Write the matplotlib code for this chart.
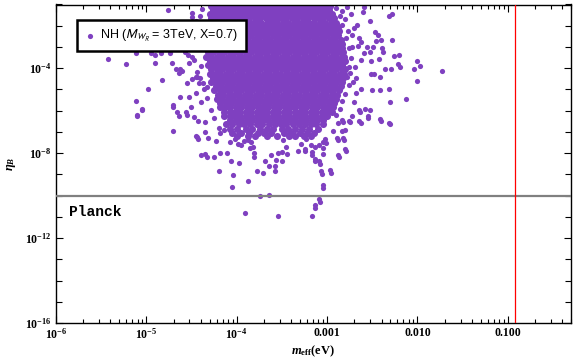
import numpy as np
import matplotlib
matplotlib.use("Agg")
import matplotlib.pyplot as plt
from matplotlib.ticker import LogLocator, FixedLocator, FixedFormatter, NullFormatter
from matplotlib.font_manager import FontProperties

plt.rcParams['mathtext.fontset'] = 'custom'
plt.rcParams['mathtext.rm'] = 'Liberation Serif:bold'
plt.rcParams['mathtext.it'] = 'Liberation Serif:italic:bold'
plt.rcParams['mathtext.bf'] = 'Liberation Serif:bold'

# dense core of the scatter: log10(eta_B) row -> log10(m_eff / eV) values
core_rows = {
    -1.05: [-4.28, -4.22, -4.16, -4.11, -4.05, -3.99, -3.93, -3.88, -3.82, -3.76, -3.70, -3.64, -3.59, -3.53, -3.47, -3.41, -3.35, -3.30, -3.24, -3.18, -3.12, -3.06, -3.01, -2.97],
    -1.25: [-4.26, -4.20, -4.14, -4.08, -4.02, -3.96, -3.91, -3.85, -3.79, -3.73, -3.67, -3.62, -3.56, -3.50, -3.44, -3.38, -3.33, -3.27, -3.21, -3.15, -3.09, -3.04, -2.98],
    -1.45: [-4.30, -4.24, -4.18, -4.12, -4.06, -4.00, -3.95, -3.89, -3.83, -3.77, -3.71, -3.65, -3.60, -3.54, -3.48, -3.42, -3.36, -3.30, -3.25, -3.19, -3.13, -3.07, -3.01, -2.95],
    -1.65: [-4.28, -4.22, -4.16, -4.10, -4.04, -3.98, -3.92, -3.86, -3.80, -3.74, -3.68, -3.62, -3.57, -3.51, -3.45, -3.39, -3.33, -3.27, -3.21, -3.15, -3.10, -3.04, -2.98, -2.92],
    -1.85: [-4.32, -4.26, -4.20, -4.14, -4.08, -4.02, -3.96, -3.90, -3.84, -3.79, -3.73, -3.67, -3.61, -3.55, -3.49, -3.43, -3.37, -3.31, -3.26, -3.20, -3.14, -3.08, -3.02, -2.96, -2.90],
    -2.05: [-4.30, -4.24, -4.18, -4.12, -4.06, -4.00, -3.94, -3.88, -3.82, -3.76, -3.70, -3.64, -3.58, -3.53, -3.47, -3.41, -3.35, -3.29, -3.23, -3.17, -3.11, -3.05, -2.99, -2.93, -2.88],
    -2.25: [-4.34, -4.28, -4.22, -4.16, -4.10, -4.04, -3.98, -3.92, -3.86, -3.80, -3.74, -3.68, -3.62, -3.56, -3.50, -3.45, -3.39, -3.33, -3.27, -3.21, -3.15, -3.09, -3.03, -2.97, -2.91, -2.87],
    -2.45: [-4.32, -4.26, -4.20, -4.14, -4.08, -4.02, -3.96, -3.90, -3.84, -3.78, -3.72, -3.66, -3.60, -3.54, -3.48, -3.42, -3.36, -3.30, -3.24, -3.18, -3.12, -3.06, -3.00, -2.94, -2.88],
    -2.65: [-4.35, -4.29, -4.23, -4.17, -4.11, -4.05, -3.99, -3.93, -3.87, -3.81, -3.75, -3.69, -3.63, -3.57, -3.51, -3.45, -3.39, -3.33, -3.27, -3.21, -3.15, -3.09, -3.03, -2.97, -2.91, -2.85],
    -2.85: [-4.33, -4.27, -4.21, -4.15, -4.09, -4.03, -3.97, -3.91, -3.85, -3.79, -3.73, -3.67, -3.61, -3.55, -3.49, -3.43, -3.37, -3.31, -3.25, -3.19, -3.13, -3.07, -3.01, -2.95, -2.89, -2.84],
    -3.05: [-4.36, -4.30, -4.24, -4.18, -4.12, -4.06, -4.00, -3.94, -3.88, -3.82, -3.76, -3.70, -3.64, -3.58, -3.52, -3.46, -3.40, -3.34, -3.28, -3.22, -3.16, -3.10, -3.04, -2.98, -2.92, -2.86, -2.83],
    -3.25: [-4.32, -4.26, -4.20, -4.14, -4.08, -4.02, -3.96, -3.90, -3.84, -3.78, -3.72, -3.66, -3.60, -3.54, -3.48, -3.42, -3.36, -3.30, -3.24, -3.18, -3.12, -3.06, -3.00, -2.94, -2.88, -2.82],
    -3.45: [-4.34, -4.28, -4.22, -4.16, -4.10, -4.04, -3.98, -3.92, -3.86, -3.80, -3.74, -3.68, -3.62, -3.56, -3.50, -3.44, -3.38, -3.32, -3.26, -3.20, -3.14, -3.08, -3.02, -2.96, -2.90, -2.84, -2.81],
    -3.65: [-4.30, -4.24, -4.18, -4.12, -4.06, -4.00, -3.94, -3.88, -3.82, -3.76, -3.70, -3.64, -3.58, -3.52, -3.46, -3.40, -3.34, -3.28, -3.22, -3.16, -3.10, -3.04, -2.98, -2.92, -2.86, -2.80],
    -3.85: [-4.32, -4.26, -4.20, -4.14, -4.08, -4.02, -3.96, -3.90, -3.84, -3.78, -3.72, -3.66, -3.60, -3.54, -3.48, -3.42, -3.36, -3.30, -3.24, -3.18, -3.12, -3.06, -3.00, -2.94, -2.88, -2.83],
    -4.05: [-4.28, -4.22, -4.16, -4.10, -4.04, -3.98, -3.92, -3.86, -3.80, -3.74, -3.68, -3.62, -3.56, -3.50, -3.44, -3.38, -3.32, -3.26, -3.20, -3.14, -3.08, -3.02, -2.96, -2.90, -2.84, -2.80],
    -4.25: [-4.30, -4.24, -4.18, -4.12, -4.06, -4.00, -3.94, -3.88, -3.82, -3.76, -3.70, -3.64, -3.58, -3.52, -3.46, -3.40, -3.34, -3.28, -3.22, -3.16, -3.10, -3.04, -2.98, -2.92, -2.86, -2.81],
    -4.45: [-4.26, -4.20, -4.14, -4.08, -4.02, -3.96, -3.90, -3.84, -3.78, -3.72, -3.66, -3.60, -3.54, -3.48, -3.42, -3.36, -3.30, -3.24, -3.18, -3.12, -3.06, -3.00, -2.94, -2.88, -2.82],
    -4.65: [-4.28, -4.22, -4.16, -4.10, -4.04, -3.98, -3.92, -3.86, -3.80, -3.74, -3.68, -3.62, -3.56, -3.50, -3.44, -3.38, -3.32, -3.26, -3.20, -3.14, -3.08, -3.02, -2.96, -2.90, -2.84],
    -4.85: [-4.23, -4.17, -4.11, -4.05, -3.99, -3.93, -3.87, -3.81, -3.75, -3.69, -3.63, -3.57, -3.51, -3.45, -3.39, -3.33, -3.27, -3.21, -3.15, -3.09, -3.03, -2.97, -2.91, -2.85],
    -5.05: [-4.25, -4.19, -4.13, -4.07, -4.01, -3.95, -3.89, -3.83, -3.77, -3.71, -3.65, -3.59, -3.53, -3.47, -3.41, -3.35, -3.29, -3.23, -3.17, -3.11, -3.05, -2.99, -2.93, -2.87],
    -5.25: [-4.21, -4.15, -4.09, -4.03, -3.97, -3.91, -3.85, -3.79, -3.73, -3.67, -3.61, -3.55, -3.49, -3.43, -3.37, -3.31, -3.25, -3.19, -3.13, -3.07, -3.01, -2.95, -2.89],
    -5.45: [-4.22, -4.16, -4.10, -4.04, -3.98, -3.92, -3.86, -3.80, -3.74, -3.68, -3.62, -3.56, -3.50, -3.44, -3.38, -3.32, -3.26, -3.20, -3.14, -3.08, -3.02, -2.96, -2.90],
    -5.65: [-4.18, -4.12, -4.06, -4.00, -3.94, -3.88, -3.82, -3.76, -3.70, -3.64, -3.58, -3.52, -3.46, -3.40, -3.34, -3.28, -3.22, -3.16, -3.10, -3.04, -2.98, -2.92],
    -5.85: [-4.19, -4.13, -4.07, -4.01, -3.95, -3.89, -3.83, -3.77, -3.71, -3.65, -3.59, -3.53, -3.47, -3.41, -3.35, -3.29, -3.23, -3.17, -3.11, -3.05, -2.99, -2.94],
    -6.05: [-4.14, -4.08, -4.02, -3.96, -3.90, -3.84, -3.78, -3.72, -3.66, -3.60, -3.54, -3.48, -3.42, -3.36, -3.30, -3.24, -3.18, -3.12, -3.06, -3.00, -2.95],
    -6.25: [-4.14, -4.08, -4.02, -3.96, -3.90, -3.84, -3.78, -3.72, -3.66, -3.60, -3.54, -3.48, -3.42, -3.36, -3.30, -3.24, -3.18, -3.12, -3.06, -3.00],
    -6.45: [-4.07, -4.01, -3.95, -3.89, -3.83, -3.77, -3.71, -3.65, -3.59, -3.53, -3.47, -3.41, -3.35, -3.29, -3.23, -3.17, -3.11, -3.05],
    -6.65: [-4.12, -4.05, -3.98, -3.92, -3.85, -3.78, -3.72, -3.64, -3.58, -3.51, -3.45, -3.38, -3.31, -3.25, -3.18, -3.12, -3.05],
    -6.85: [-4.08, -4.00, -3.90, -3.83, -3.74, -3.66, -3.60, -3.50, -3.43, -3.35, -3.28, -3.20, -3.10],
    -7.05: [-4.05, -3.95, -3.86, -3.77, -3.70, -3.62, -3.48, -3.40, -3.30, -3.22, -3.14],
    -7.20: [-4.00, -3.88, -3.80, -3.66, -3.55, -3.42, -3.35, -3.26, -3.18],
}

# scattered points around the core: log10(m_eff / eV), log10(eta_B)
sparse_meff = [
    -2.59, -2.60, -2.32, -2.28, -2.52, -2.47, -2.44, -2.28, -2.40, -2.46, -2.49, -2.39, -2.38, -2.26, -2.20,
    -2.43, -2.51, -2.00, -1.97, -2.04, -1.73, -2.22, -2.19, -2.36, -2.29, -2.48, -2.51, -2.41, -2.01, -2.32,
    -2.41, -2.50, -2.30, -2.13, -2.58, -2.52, -2.64, -2.55, -2.40, -2.30, -2.63, -2.75, -2.82, -2.84, -2.93,
    -2.88, -2.81, -2.79, -2.87, -3.01, -3.05, -3.04, -3.13, -3.17, -3.24, -3.13, -3.08, -3.06, -2.96, -3.04,
    -3.08, -3.13, -3.17,
    -4.71, -4.44, -4.43, -4.35, -4.23, -4.39, -4.35, -4.33, -4.25, -4.18, -4.11, -4.06, -3.97, -4.20, -4.04,
    -4.05, -3.87, -3.78, -3.71, -3.69, -3.64, -3.58, -3.58, -3.62, -3.57, -3.50, -3.81, -3.81, -3.74, -3.64,
    -3.91, -3.54, -3.13, -3.09, -3.04, -3.07, -2.97, -3.13, -3.09, -2.88, -2.80, -2.82, -2.89, -3.17, -3.32,
    -3.24, -3.44, -3.50, -3.54, -3.29, -3.23, -3.45, -3.49, -3.84, -3.82, -3.85, -3.99, -3.95, -4.08, -4.32,
    -2.65, -2.55, -2.42, -2.31, -2.88, -2.84,
    -5.10, -5.05, -4.66, -4.64, -4.55, -4.47, -4.43, -4.45, -4.20, -4.19, -4.14, -4.02, -3.92, -3.88,
    -3.09, -3.18, -3.04, -3.02, -2.80, -2.76,
    -4.76, -4.50, -4.49, -4.41, -5.12, -4.95, -4.74, -4.57, -4.58, -5.43, -5.23, -4.90, -4.72, -4.63, -4.61,
    -4.83, -4.98, -5.11, -5.05, -5.10, -4.71, -4.70, -4.91, -4.84, -4.63, -4.53, -4.51, -4.45, -4.56, -4.67,
    -4.64, -4.54, -4.50, -4.53, -4.44, -4.41, -4.42, -4.37, -4.33, -4.55, -4.50, -4.44,
    -2.67, -2.70, -2.65, -2.62, -2.56, -2.59, -2.53, -2.72, -2.69, -2.75, -2.71, -2.68, -2.65,
    -2.90, -2.84, -2.78, -2.86, -2.80, -2.74, -2.83, -2.77, -2.72, -2.79, -2.76, -2.74, -2.76, -2.78, -2.76,
    -2.80, -2.83, -2.86, -2.90, -2.66, -2.63, -2.68, -2.62, -2.70, -2.72,
    -4.38, -4.45, -4.40, -4.48, -4.42, -4.47, -4.40, -4.45, -4.36, -4.33, -4.40, -4.28, -4.25, -4.35, -4.52, -4.60,
]
sparse_eta = [
    -1.11, -1.34, -1.54, -1.47, -1.76, -2.28, -2.43, -2.67, -2.67, -2.73, -3.01, -3.05, -3.24, -3.42, -3.38,
    -3.59, -3.68, -3.67, -3.91, -4.05, -4.15, -3.81, -3.94, -4.05, -4.05, -4.26, -4.29, -4.43, -4.58, -4.96,
    -5.02, -5.05, -5.58, -5.43, -5.91, -5.96, -6.04, -6.34, -6.48, -6.65, -6.58, -6.52, -6.52, -6.95, -6.98,
    -7.38, -7.39, -7.88, -8.20, -7.52, -7.74, -8.06, -7.72, -8.08, -7.92, -8.39, -8.52, -8.97, -8.93, -9.64,
    -10.30, -10.59, -10.97,
    -6.94, -7.25, -7.33, -6.99, -7.42, -8.08, -8.04, -8.19, -8.19, -8.00, -8.00, -8.35, -8.47, -8.85, -9.04,
    -9.60, -9.32, -8.85, -8.92, -8.38, -8.59, -8.61, -8.85, -8.10, -8.32, -8.35, -8.00, -8.19, -10.00, -9.95,
    -10.83, -10.97, -10.45, -10.17, -9.51, -8.85, -8.80, -8.28, -8.38, -8.10, -7.79, -7.30, -7.30, -7.96, -7.88,
    -7.81, -8.04, -7.94, -8.00, -7.56, -7.33, -7.69, -7.38, -7.46, -7.69, -7.75, -7.58, -7.64, -7.46, -7.30,
    -6.47, -6.25, -6.40, -6.56, -6.56, -6.44,
    -6.21, -5.96, -6.04, -6.25, -6.21, -6.31, -6.48, -7.19, -6.83, -7.06, -6.91, -7.34, -7.41, -7.38,
    -7.61, -7.64, -7.46, -7.34, -6.91, -6.47,
    -1.26, -1.41, -1.57, -1.54, -3.30, -3.30, -3.30, -3.22, -2.83, -3.55, -3.80, -3.77, -3.74, -4.04, -4.13,
    -4.55, -4.99, -5.56, -5.93, -6.23, -5.72, -5.84, -3.38, -3.30, -5.34, -5.34, -5.81, -5.15, -6.04, -4.05,
    -4.21, -3.38, -3.46, -3.77, -4.16, -4.47, -4.71, -4.71, -4.87, -4.69, -4.51, -4.41,
    -1.96, -2.12, -2.56, -2.75, -2.99, -3.30, -3.22, -2.99, -3.93, -4.21, -4.63, -5.18, -5.96,
    -1.15, -1.30, -1.10, -1.55, -1.70, -1.45, -1.95, -2.25, -2.45, -2.60, -3.05, -3.50, -3.95, -4.40, -4.80,
    -5.20, -5.55, -5.90, -6.20, -2.95, -3.60, -4.45, -5.00, -5.60, -6.25,
    -1.20, -1.80, -2.20, -2.55, -3.00, -3.60, -3.90, -4.40, -5.00, -5.40, -5.60, -5.95, -6.35, -6.55, -2.05, -2.40,
]

planck_eta = 1e-10
meff_bound = 0.12
x_ticks = [1e-6, 1e-5, 1e-4, 1e-3, 1e-2, 1e-1]
x_labels = [r'$10^{-6}$', r'$10^{-5}$', r'$10^{-4}$', '0.001', '0.010', '0.100']
y_ticks = [1e-16, 1e-12, 1e-8, 1e-4]
y_labels = [r'$10^{-16}$', r'$10^{-12}$', r'$10^{-8}$', r'$10^{-4}$']

core_x = []
core_y = []
for row_y, row_x in core_rows.items():
    core_x += row_x
    core_y += [row_y] * len(row_x)

fig = plt.figure(figsize=(5.76, 3.63), dpi=100)
ax = fig.add_axes([56 / 576, 40 / 363, 515 / 576, 318.5 / 363])
purple = '#7f40c0'

ax.scatter(10 ** np.array(core_x), 10 ** np.array(core_y), s=26, color=purple,
           linewidths=0, zorder=2)
ax.scatter(10 ** np.array(sparse_meff), 10 ** np.array(sparse_eta), s=14, color=purple,
           linewidths=0, zorder=2, label=r'NH ($M_{W_R}$ = 3TeV, X=0.7)')
ax.axhline(planck_eta, color='#808080', lw=1.6, zorder=3)
ax.axvline(meff_bound, color='red', lw=0.9, zorder=3)
ax.text(1.39e-6, 10 ** -10.78, 'Planck', family='Liberation Mono', weight='bold',
        fontsize=10.5, va='center', ha='left')

ax.set_xscale('log')
ax.set_yscale('log')
ax.set_xlim(1e-6, 0.5)
ax.set_ylim(1e-16, 1e-1)

ax.xaxis.set_major_locator(FixedLocator(x_ticks))
ax.xaxis.set_major_formatter(FixedFormatter(x_labels))
ax.xaxis.set_minor_locator(LogLocator(base=10, subs=np.arange(2, 10)))
ax.xaxis.set_minor_formatter(NullFormatter())
ax.yaxis.set_major_locator(FixedLocator(y_ticks))
ax.yaxis.set_major_formatter(FixedFormatter(y_labels))
ax.yaxis.set_minor_locator(FixedLocator([10.0 ** k for k in range(-16, 0)]))
ax.yaxis.set_minor_formatter(NullFormatter())

ax.tick_params(which='both', direction='in', top=True, right=True, width=0.8)
ax.tick_params(which='major', length=5, pad=3, labelsize=8.5)
ax.tick_params(axis='x', which='minor', length=3)
ax.tick_params(axis='y', which='minor', length=4)
for lab in ax.get_xticklabels() + ax.get_yticklabels():
    lab.set_family('Liberation Serif')
    lab.set_weight('bold')
for s in ax.spines.values():
    s.set_linewidth(1.0)

ax.set_xlabel(r'$m_{\mathrm{eff}}$(eV)', family='Liberation Serif', weight='bold',
              fontsize=9, labelpad=1)
ax.set_ylabel(r'$\eta_B$', fontsize=9, labelpad=5)

leg_font = FontProperties(family='Liberation Sans', size=9, math_fontfamily='stixsans')
leg = ax.legend(loc='upper left', bbox_to_anchor=(0.04, 0.95), prop=leg_font,
                frameon=True, fancybox=False, handletextpad=0.3, borderpad=0.6,
                handlelength=1.0, markerscale=1.0, borderaxespad=0)
leg.get_frame().set_edgecolor('black')
leg.get_frame().set_linewidth(1.8)
leg.get_frame().set_alpha(1)

fig.savefig('out.png', dpi=100)
